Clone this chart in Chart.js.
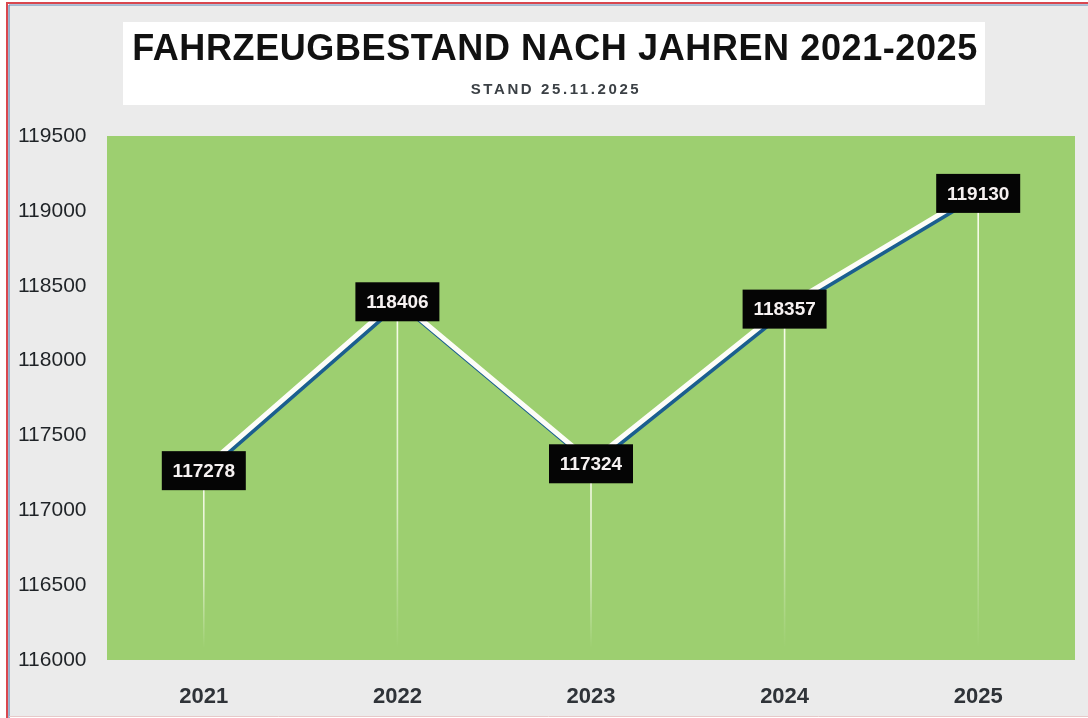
<!DOCTYPE html>
<html><head><meta charset="utf-8">
<script src="https://cdn.jsdelivr.net/npm/chart.js@4"></script>
<style>html,body{margin:0;padding:0;background:#fff;overflow:hidden}</style>
</head><body>
<canvas id="c" width="1088" height="718"></canvas>
<script>
const years = ['2021', '2022', '2023', '2024', '2025'];
const vehicleCounts = [117278, 118406, 117324, 118357, 119130];
const yTickValues = [116000, 116500, 117000, 117500, 118000, 118500, 119000, 119500];
const titleText = 'FAHRZEUGBESTAND NACH JAHREN 2021-2025';
const subtitleText = 'STAND 25.11.2025';

const FONT = '"Liberation Sans", Arial, Helvetica, sans-serif';
const GREEN = '#9dcf70';
const GRAY = '#ebebeb';

const backgroundPlugin = {
  id: 'bg',
  beforeDraw(chart) {
    const ctx = chart.ctx, W = chart.width, H = chart.height, a = chart.chartArea;
    ctx.save();
    ctx.fillStyle = '#ffffff';
    ctx.fillRect(0, 0, W, H);
    ctx.fillStyle = GRAY;
    ctx.fillRect(9, 5, W - 9, H - 7);
    // frame lines
    ctx.strokeStyle = '#d9474f'; ctx.lineWidth = 2;
    ctx.beginPath(); ctx.moveTo(6, 3); ctx.lineTo(W, 3); ctx.moveTo(7, 2); ctx.lineTo(7, H); ctx.stroke();
    ctx.strokeStyle = '#5b86b3'; ctx.lineWidth = 1.2;
    ctx.beginPath(); ctx.moveTo(9, 5); ctx.lineTo(W, 5); ctx.moveTo(9, 5); ctx.lineTo(9, H); ctx.stroke();
    ctx.strokeStyle = '#e7c9c9'; ctx.lineWidth = 1;
    ctx.beginPath(); ctx.moveTo(9, H - 1.5); ctx.lineTo(W, H - 1.5); ctx.stroke();
    // title box
    ctx.fillStyle = '#ffffff';
    ctx.fillRect(123, 22, 862, 83);
    ctx.fillStyle = '#111111';
    ctx.textAlign = 'center'; ctx.textBaseline = 'middle';
    ctx.font = 'bold 36px ' + FONT;
    try { ctx.letterSpacing = '0.6px'; } catch (e) {}
    ctx.fillText(titleText, 555, 50);
    ctx.fillStyle = '#3b4045';
    ctx.font = 'bold 15px ' + FONT;
    try { ctx.letterSpacing = '2.6px'; } catch (e) {}
    ctx.fillText(subtitleText, 556, 90);
    try { ctx.letterSpacing = '0px'; } catch (e) {}
    // plot area
    ctx.fillStyle = GREEN;
    ctx.fillRect(a.left, a.top, a.right - a.left, a.bottom - a.top);
    ctx.restore();
  }
};

const dropLinePlugin = {
  id: 'dropLines',
  beforeDatasetsDraw(chart) {
    const ctx = chart.ctx, a = chart.chartArea;
    const meta = chart.getDatasetMeta(0);
    ctx.save();
    meta.data.forEach(pt => {
      const g = ctx.createLinearGradient(0, pt.y, 0, a.bottom - 12);
      g.addColorStop(0, 'rgba(255,255,245,0.95)');
      g.addColorStop(0.6, 'rgba(255,255,245,0.6)');
      g.addColorStop(1, 'rgba(255,255,245,0)');
      ctx.strokeStyle = g; ctx.lineWidth = 1.6;
      ctx.beginPath(); ctx.moveTo(pt.x, pt.y); ctx.lineTo(pt.x, a.bottom - 12); ctx.stroke();
    });
    ctx.restore();
  }
};

const shadowPlugin = {
  id: 'lineShadow',
  beforeDatasetDraw(chart) {
    const ctx = chart.ctx;
    ctx.save();
    ctx.shadowColor = '#1b5f8f';
    ctx.shadowOffsetX = 2;
    ctx.shadowOffsetY = 3;
    ctx.shadowBlur = 0;
  },
  afterDatasetDraw(chart) { chart.ctx.restore(); }
};

const labelPlugin = {
  id: 'valueLabels',
  afterDatasetsDraw(chart) {
    const ctx = chart.ctx;
    const meta = chart.getDatasetMeta(0);
    ctx.save();
    ctx.font = 'bold 19px ' + FONT;
    ctx.textAlign = 'center'; ctx.textBaseline = 'middle';
    meta.data.forEach((pt, i) => {
      const w = 84, h = 39;
      const cx = pt.x, cy = pt.y + 2;
      ctx.fillStyle = '#050505';
      ctx.fillRect(cx - w / 2, cy - h / 2, w, h);
      ctx.fillStyle = '#f6f1f1';
      ctx.fillText(String(vehicleCounts[i]), cx, cy + 1);
    });
    ctx.restore();
  }
};

new Chart(document.getElementById('c'), {
  type: 'line',
  data: {
    labels: years,
    datasets: [{
      data: vehicleCounts,
      borderColor: '#fdfdf8',
      borderWidth: 5,
      tension: 0,
      pointRadius: 0,
      pointHoverRadius: 0,
      fill: false
    }]
  },
  options: {
    responsive: false,
    devicePixelRatio: 1,
    animation: false,
    events: [],
    layout: { padding: { top: 136, left: 18, right: 13, bottom: 0 } },
    plugins: { legend: { display: false }, tooltip: { enabled: false }, title: { display: false } },
    scales: {
      x: {
        offset: true,
        grid: { display: false, drawTicks: false },
        border: { display: false },
        ticks: { color: '#2f3338', font: { family: FONT, size: 22, weight: 'bold' }, padding: 24 },
        afterFit(scale) { scale.height = 58; }
      },
      y: {
        min: 116000, max: 119500,
        grid: { display: false, drawTicks: false },
        border: { display: false },
        afterBuildTicks(scale) { scale.ticks = yTickValues.map(v => ({ value: v })); },
        ticks: {
          crossAlign: 'far',
          color: '#1f2327',
          font: { family: FONT, size: 21 },
          callback: v => String(v)
        },
        afterFit(scale) { scale.width = 89; }
      }
    }
  },
  plugins: [backgroundPlugin, dropLinePlugin, shadowPlugin, labelPlugin]
});
</script>
</body></html>
